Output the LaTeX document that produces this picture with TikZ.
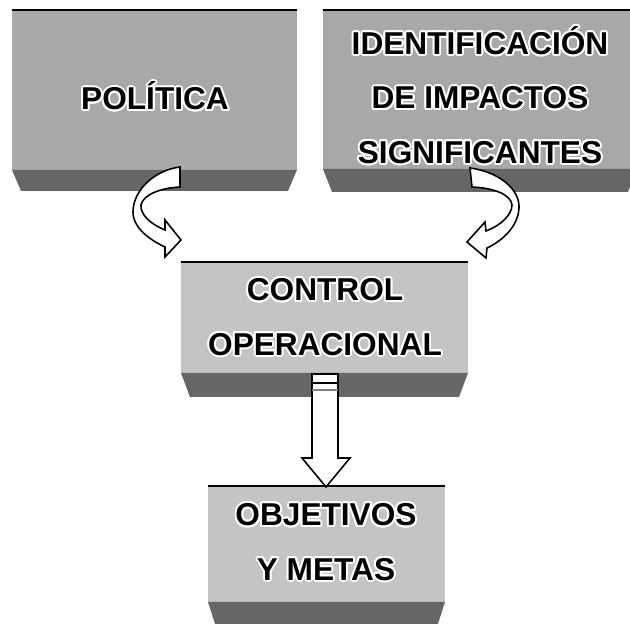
\documentclass[tikz,border=0pt]{standalone}
\usepackage{fontspec}
\setmainfont{Liberation Sans}
\usepackage{contour}
\contourlength{1.1pt}
\contournumber{16}
\definecolor{BoxClr}{rgb}{0.66,0.66,0.66}
\definecolor{BoxLowClr}{rgb}{0.77,0.77,0.77}
\definecolor{StripClr}{rgb}{0.40,0.40,0.40}

% left, top, right, strip, bottom, colour
\newcommand{\Bloque}[6]{%
  \fill[#6] (#1,#2) rectangle (#3,#4);
  \fill[StripClr] (#1,#4) -- (#3,#4) -- (#3-9,#5) -- (#1+9,#5) -- cycle;
  \draw[line width=0.9pt] (#1,#2) -- (#3,#2);
}
\newcommand{\Rotulo}[1]{\contour{white}{#1}}

\begin{document}
\begin{tikzpicture}[x=0.02cm,y=-0.02cm,
  rotulo/.style={align=center,font=\fontsize{18}{31}\selectfont\bfseries},
  flecha/.style={fill=white,draw=black,line width=0.9pt,line join=miter}]
\clip (0,0) rectangle (630,624);
\fill[white] (0,0) rectangle (630,624);

\Bloque{12}{10}{297}{170}{191}{BoxClr}
\Bloque{323}{10}{637}{169}{192}{BoxClr}
\Bloque{181}{262}{468}{373}{397}{BoxLowClr}
\Bloque{208}{486}{445}{602}{630}{BoxLowClr}

\node[rotulo] (politica) at (155,97) {\Rotulo{POLÍTICA}};
\node[rotulo] (identificacion) at (480,96)
  {\Rotulo{IDENTIFICACIÓN}\\\Rotulo{DE IMPACTOS}\\\Rotulo{SIGNIFICANTES}};
\node[rotulo] (control) at (325,318) {\Rotulo{CONTROL}\\\Rotulo{OPERACIONAL}};
\node[rotulo] (objetivos) at (326,543) {\Rotulo{OBJETIVOS}\\\Rotulo{Y METAS}};

% curved arrows into the control box
\draw[flecha] (180,167) .. controls (155,170) and (133,190) .. (133,212)
  .. controls (133,228) and (150,240) .. (165,247) -- (165,257) -- (181,240)
  -- (165,220) -- (165,230) .. controls (150,224) and (140,214) .. (141,205)
  .. controls (143,195) and (160,188) .. (180,187) -- cycle;
\draw[flecha] (470,168) .. controls (500,172) and (520,190) .. (519,208)
  .. controls (518,228) and (500,242) .. (487,248) -- (486,258) -- (467,242)
  -- (485,222) -- (486,231) .. controls (500,226) and (512,215) .. (512,205)
  .. controls (511,195) and (495,188) .. (472,187) -- cycle;

% straight arrow down to the objectives
\draw[flecha] (312,374) -- (338,374) -- (338,458) -- (350,458) -- (326,487)
  -- (302,458) -- (312,458) -- cycle;
\draw[line width=0.9pt] (312,383) -- (338,383);
\draw[gray,line width=0.6pt] (312,390) -- (338,390);
\end{tikzpicture}
\end{document}
